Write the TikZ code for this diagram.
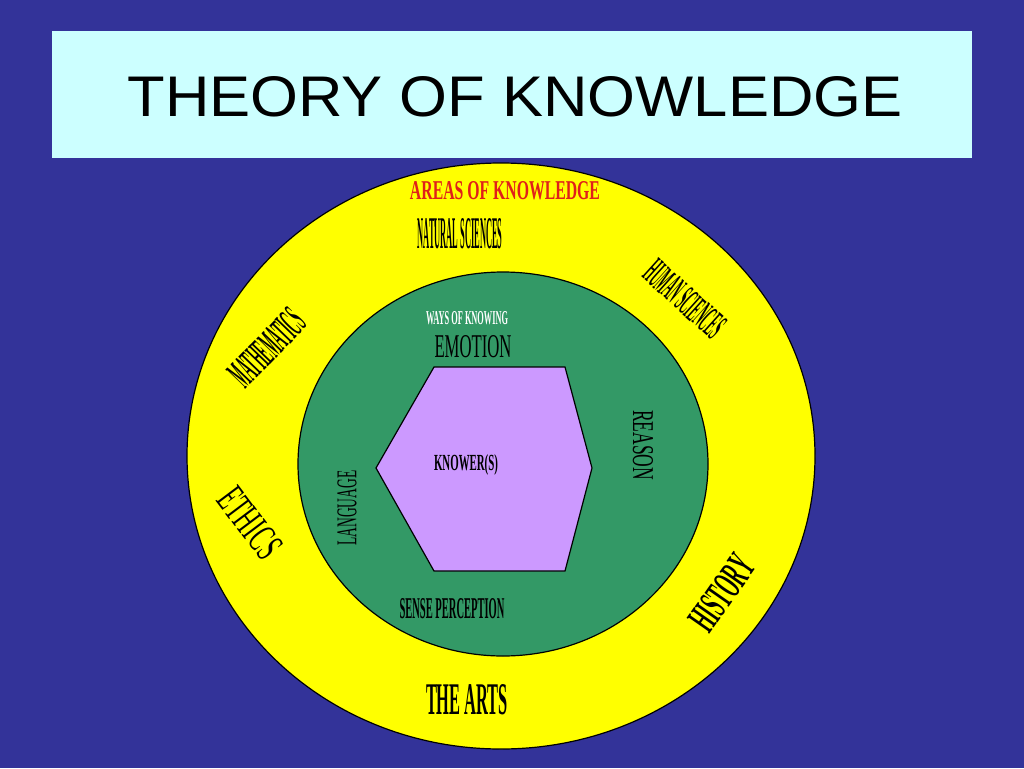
\documentclass[tikz,border=0pt]{standalone}
\usepackage{fontspec}
\setmainfont{Liberation Serif}
\newfontfamily\titlefont{Liberation Sans}
\usepackage{graphicx}

\definecolor{slideblue}{HTML}{333399}
\definecolor{titlecyan}{HTML}{CCFFFF}
\definecolor{aokyellow}{HTML}{FFFF00}
\definecolor{wokgreen}{HTML}{339966}
\definecolor{knowerlilac}{HTML}{CC99FF}
\definecolor{aokred}{HTML}{E0201A}

% 1 px of the slide
\newlength{\pxl}\setlength{\pxl}{0.75pt}
\newcommand{\squash}[3]{\resizebox{#1\pxl}{#2\pxl}{#3}}

\begin{document}
\begin{tikzpicture}[
    x=0.75pt, y=-0.75pt,
    ring/.style={draw=black, line width=0.9pt},
    lbl/.style={inner sep=0pt, text=black}
]
\fill[slideblue] (0,0) rectangle (1024,768);
\fill[titlecyan] (52,31) rectangle (972,158);
\node (title) [lbl] at (515,97) {\squash{775}{40}{\titlefont THEORY OF KNOWLEDGE}};

% rings and knower
\draw[ring, fill=aokyellow] (501,456) ellipse (314 and 293);
\draw[ring, fill=wokgreen] (503,464) ellipse (205 and 192);
\draw[ring, fill=knowerlilac] (434,367) -- (565,367) -- (592,468) -- (565,571) -- (434,571) -- (376,468) -- cycle;

% areas of knowledge
\node (aok) [lbl, text=aokred] at (505,191) {\squash{190}{18}{\bfseries AREAS OF KNOWLEDGE}};
\node (natsci) [lbl] at (460,234) {\squash{85}{30}{\bfseries NATURAL SCIENCES}};
\node (humsci) [lbl, rotate=-42] at (685,299) {\squash{95}{26}{\bfseries HUMAN SCIENCES}};
\node (maths) [lbl, rotate=46] at (267,348) {\squash{90}{28}{\bfseries MATHEMATICS}};
\node (ethics) [lbl, rotate=-53] at (250,523) {\squash{78}{28}{ETHICS}};
\node (history) [lbl, rotate=55] at (722,593) {\squash{82}{28}{\bfseries HISTORY}};
\node (arts) [lbl] at (467,700) {\squash{82}{30}{\bfseries THE ARTS}};

% ways of knowing
\node (wok) [lbl, text=white] at (467,318) {\squash{82}{13}{\bfseries WAYS OF KNOWING}};
\node (emotion) [lbl] at (473,347) {\squash{77}{22}{EMOTION}};
\node (reason) [lbl, rotate=-90] at (643,445) {\squash{70}{20}{REASON}};
\node (language) [lbl, rotate=90] at (347,508) {\squash{75}{19}{LANGUAGE}};
\node (sense) [lbl] at (452,609) {\squash{105}{20}{\bfseries SENSE PERCEPTION}};
\node (knower) [lbl] at (466,465) {\squash{64}{16}{\bfseries KNOWER(S)}};
\end{tikzpicture}
\end{document}
